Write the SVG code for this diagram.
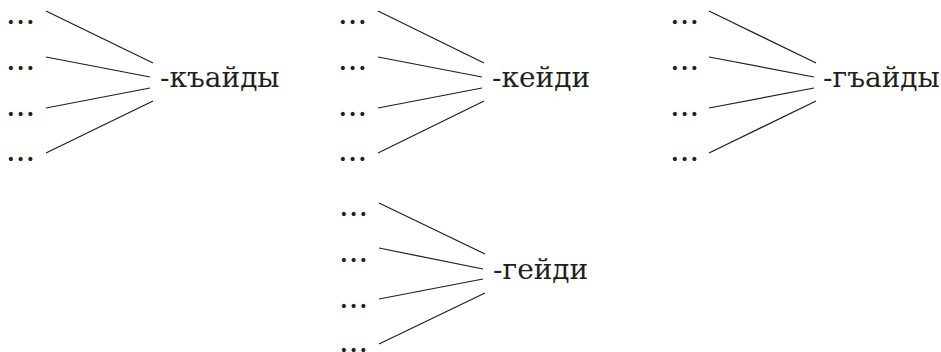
<svg xmlns="http://www.w3.org/2000/svg" width="941" height="352" viewBox="0 0 941 352">
<style>
.lbl{font-family:"DejaVu Serif","Liberation Serif",serif;font-size:28px;fill:#231f20}
.dots{font-family:"DejaVu Serif","Liberation Serif",serif;font-size:22px;font-weight:bold;letter-spacing:2.1px;fill:#231f20}
.con line{stroke:#231f20;stroke-width:1.25}
</style>
<rect width="941" height="352" fill="#fff"/>
<g id="g1">
<text class="dots" x="7" y="24">...</text>
<text class="dots" x="7" y="70">...</text>
<text class="dots" x="7" y="116">...</text>
<text class="dots" x="7" y="161">...</text>
<text class="lbl" x="160" y="87">-къайды</text>
</g>
<g id="g2">
<text class="dots" x="339" y="24">...</text>
<text class="dots" x="339" y="70">...</text>
<text class="dots" x="339" y="116">...</text>
<text class="dots" x="339" y="161">...</text>
<text class="lbl" x="492" y="87">-кейди</text>
</g>
<g id="g3">
<text class="dots" x="671" y="24">...</text>
<text class="dots" x="671" y="70">...</text>
<text class="dots" x="671" y="116">...</text>
<text class="dots" x="671" y="161">...</text>
<text class="lbl" x="823" y="87">-гъайды</text>
</g>
<g id="g4">
<text class="dots" x="340" y="216">...</text>
<text class="dots" x="340" y="262">...</text>
<text class="dots" x="340" y="308">...</text>
<text class="dots" x="340" y="352">...</text>
<text class="lbl" x="493" y="279">-гейди</text>
</g>
<g class="con" id="connectors">
<line x1="46" y1="11" x2="153" y2="63"/>
<line x1="46" y1="57" x2="150" y2="77"/>
<line x1="46" y1="108" x2="150" y2="88"/>
<line x1="46" y1="153" x2="153" y2="101"/>
<line x1="378" y1="11" x2="484" y2="63"/>
<line x1="378" y1="57" x2="482" y2="77"/>
<line x1="378" y1="108" x2="482" y2="88"/>
<line x1="378" y1="153" x2="484" y2="101"/>
<line x1="709" y1="11" x2="816" y2="63"/>
<line x1="709" y1="57" x2="814" y2="77"/>
<line x1="709" y1="108" x2="814" y2="88"/>
<line x1="709" y1="153" x2="816" y2="101"/>
<line x1="379" y1="203" x2="485" y2="254"/>
<line x1="379" y1="248" x2="483" y2="269"/>
<line x1="379" y1="299" x2="483" y2="279"/>
<line x1="379" y1="344" x2="485" y2="293"/>
</g>
</svg>
